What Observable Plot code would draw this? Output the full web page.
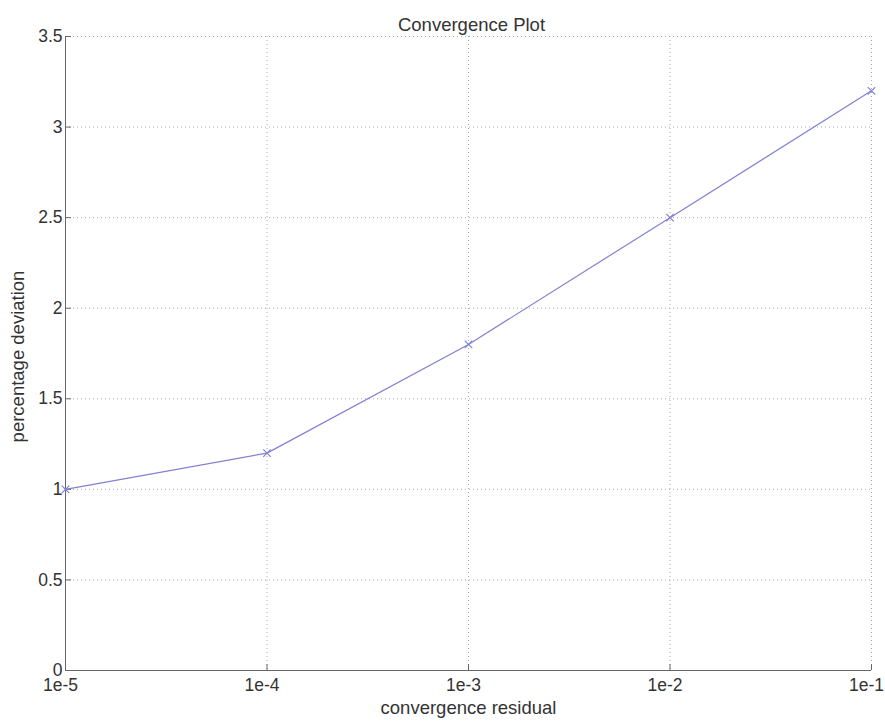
<!DOCTYPE html>
<html>
<head>
<meta charset="utf-8">
<script src="https://cdn.jsdelivr.net/npm/d3@7"></script>
<script src="https://cdn.jsdelivr.net/npm/@observablehq/plot@0.6"></script>
<style>
  html, body { margin: 0; padding: 0; background: #fff; }
  svg { font-family: "Liberation Sans", Arial, sans-serif; }
</style>
</head>
<body>
<div id="chart"></div>
<script>
const residuals = [1e-5, 1e-4, 1e-3, 1e-2, 1e-1];
const deviations = [1.0, 1.2, 1.8, 2.5, 3.2];
const xTicks = [1e-5, 1e-4, 1e-3, 1e-2, 1e-1];
const xTickLabels = ["1e-5", "1e-4", "1e-3", "1e-2", "1e-1"];
const yTicks = [0, 0.5, 1, 1.5, 2, 2.5, 3, 3.5];
const yTickLabels = ["0", "0.5", "1", "1.5", "2", "2.5", "3", "3.5"];
const titleText = "Convergence Plot";
const xLabel = "convergence residual";
const yLabel = "percentage deviation";

const data = residuals.map((r, i) => ({x: r, y: deviations[i]}));
const lineColor = "#8080d4";
const axisColor = "#666";
const textColor = "#333";

const chart = Plot.plot({
  width: 885,
  height: 723,
  marginLeft: 65,
  marginRight: 14,
  marginTop: 36,
  marginBottom: 53,
  style: {fontFamily: "'Liberation Sans', Arial, sans-serif", fontSize: "17px", color: textColor, background: "#fff"},
  x: {type: "log", domain: [1e-5, 1e-1]},
  y: {domain: [0, 3.5]},
  marks: [
    Plot.ruleX(xTicks, {stroke: "#aaa", strokeDasharray: "1,3"}),
    Plot.ruleY(yTicks, {stroke: "#aaa", strokeDasharray: "1,3"}),
    Plot.ruleX([xTicks[0]], {stroke: axisColor}),
    Plot.ruleY([yTicks[0]], {stroke: axisColor}),
    // x tick marks (inward)
    Plot.axisX(xTicks, {
      tickSize: -6, stroke: axisColor, tickFormat: () => "", label: null
    }),
    // x tick labels
    Plot.axisX(xTicks, {
      tickSize: 0, tickPadding: 8, fill: textColor, dx: -5,
      tickFormat: (d) => xTickLabels[xTicks.indexOf(d)], label: null, fontSize: 17.5
    }),
    Plot.axisY(yTicks, {
      tickSize: -6, tickPadding: 9, stroke: axisColor, fill: textColor,
      tickFormat: (d) => yTickLabels[yTicks.indexOf(d)], label: null, fontSize: 17.5
    }),
    Plot.line(data, {x: "x", y: "y", stroke: lineColor, strokeWidth: 1.2}),
    Plot.dot(data, {x: "x", y: "y", symbol: "times", r: 3.5, stroke: lineColor, strokeWidth: 1.2}),
    Plot.text([titleText], {frameAnchor: "top", dy: -19, dx: 3, fontSize: 18.5, fill: textColor}),
    Plot.text([xLabel], {frameAnchor: "bottom", dy: 43, fontSize: 18.5, fill: textColor}),
    Plot.text([yLabel], {frameAnchor: "left", textAnchor: "middle", dx: -47, dy: 3, rotate: -90, fontSize: 18.5, fill: textColor})
  ]
});
document.getElementById("chart").append(chart);
</script>
</body>
</html>
